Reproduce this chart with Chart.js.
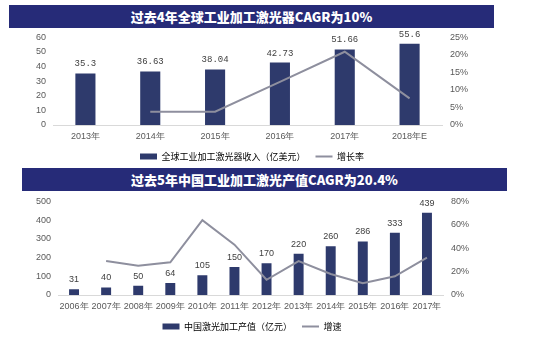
<!DOCTYPE html>
<html>
<head>
<meta charset="utf-8">
<script src="https://cdn.jsdelivr.net/npm/chart.js@4"></script>
<style>
    body { margin: 0; background: #fff; width: 557px; height: 354px; position: relative; overflow: hidden; }
    .band {
        position: absolute; background: #262b78; color: #fff;
        font-family: "Noto Sans CJK SC", sans-serif; font-weight: 900; font-size: 13px;
        text-align: center; height: 23px; line-height: 23px;
    }
    canvas { position: absolute; left: 0; }
</style>
</head>
<body>
<canvas id="globalChart" width="557" height="151" style="top:24px;"></canvas>
<canvas id="chinaChart" width="557" height="157" style="top:188px;"></canvas>
<div class="band" style="left:9px; top:5px; width:485px;">过去4年全球工业加工激光器CAGR为10%</div>
<div class="band" style="left:22px; top:168px; width:485px;">过去5年中国工业加工激光产值CAGR为20.4%</div>
<script>
// top chart
const globalYears = ["2013年", "2014年", "2015年", "2016年", "2017年", "2018年E"];
const globalRevenue = [35.3, 36.63, 38.04, 42.73, 51.66, 55.6];
const globalGrowth = [null, 3.8, 3.8, 12.3, 20.9, 7.6];

// bottom chart
const chinaYears = ["2006年", "2007年", "2008年", "2009年", "2010年", "2011年", "2012年", "2013年", "2014年", "2015年", "2016年", "2017年"];
const chinaOutput = [31, 40, 50, 64, 105, 150, 170, 220, 260, 286, 333, 439];
const chinaGrowth = [null, 29, 25, 28, 64, 43, 13, 29, 18, 10, 16, 32];

const barColor = "#2e3a6c";
const lineColor = "#8e8f9e";
const tickColor = "#595959";

// values over the bars
const barValues = {
    id: "barValues",
    afterDatasetsDraw(chart, args, opts) {
        const ctx = chart.ctx;
        const meta = chart.getDatasetMeta(0);
        ctx.save();
        ctx.font = opts.font;
        ctx.fillStyle = "#404040";
        ctx.textAlign = "center";
        ctx.textBaseline = "bottom";
        meta.data.forEach((bar, i) => {
            ctx.fillText(String(chart.data.datasets[0].data[i]), bar.x, bar.y - 5);
        });
        ctx.restore();
    }
};

function makeChart(id, cfg) {
    const ctx = document.getElementById(id).getContext("2d");
    const legendShift = 53; // legend is centred a bit left of the canvas centre
    return new Chart(ctx, {
        data: {
            labels: cfg.labels,
            datasets: [{
                type: "bar",
                label: cfg.barLabel,
                data: cfg.values,
                yAxisID: "y",
                backgroundColor: barColor,
                categoryPercentage: 1,
                barPercentage: 0.31,
                order: 1
            }, {
                type: "line",
                label: cfg.lineLabel,
                data: cfg.growth,
                yAxisID: "y1",
                borderColor: lineColor,
                backgroundColor: lineColor,
                borderWidth: 2,
                pointRadius: 0,
                tension: 0,
                order: 0
            }]
        },
        plugins: [barValues],
        options: {
            responsive: false,
            animation: false,
            layout: { padding: { top: 0, bottom: 4, left: 0, right: legendShift } },
            plugins: {
                tooltip: { enabled: false },
                barValues: { font: cfg.valueFont },
                legend: {
                    position: "bottom",
                    labels: {
                        usePointStyle: true,
                        pointStyleWidth: 17,
                        boxHeight: 6,
                        padding: 10,
                        color: tickColor,
                        font: { family: "Noto Sans CJK SC", size: 9 },
                        generateLabels: (chart) => [
                            { text: cfg.barLabel, pointStyle: "rect", fillStyle: barColor, strokeStyle: barColor, lineWidth: 0, datasetIndex: 0 },
                            { text: cfg.lineLabel, pointStyle: "line", fillStyle: lineColor, strokeStyle: lineColor, lineWidth: 2, datasetIndex: 1 }
                        ]
                    }
                }
            },
            scales: {
                x: {
                    grid: { display: false, drawTicks: false },
                    border: { color: "#d9d9d9" },
                    ticks: { color: tickColor, font: { size: 9 }, padding: 6, autoSkip: false, maxRotation: 0 },
                    afterFit: (s) => { s.height = 17; }
                },
                y: {
                    position: "left",
                    min: 0, max: cfg.yMax,
                    grid: { display: false, drawTicks: false },
                    border: { display: false },
                    ticks: { stepSize: cfg.yStep, autoSkip: false, color: tickColor, font: { size: 9 }, padding: 7 },
                    afterFit: (s) => { s.width = cfg.left; }
                },
                y1: {
                    position: "right",
                    min: 0, max: cfg.y1Max,
                    grid: { display: false, drawTicks: false },
                    border: { display: false },
                    ticks: { stepSize: cfg.y1Step, autoSkip: false, color: tickColor, font: { size: 9 }, padding: 8, callback: (v) => v + "%" },
                    afterFit: (s) => { s.width = 557 - legendShift - cfg.right; }
                }
            }
        }
    });
}

makeChart("globalChart", {
    labels: globalYears,
    values: globalRevenue,
    growth: globalGrowth,
    barLabel: "全球工业加工激光器收入（亿美元）",
    lineLabel: "增长率",
    yMax: 60, yStep: 10, y1Max: 25, y1Step: 5,
    left: 53, right: 442,
    valueFont: "9px 'Liberation Mono'"
});

makeChart("chinaChart", {
    labels: chinaYears,
    values: chinaOutput,
    growth: chinaGrowth,
    barLabel: "中国激光加工产值（亿元）",
    lineLabel: "增速",
    yMax: 500, yStep: 100, y1Max: 80, y1Step: 20,
    left: 58, right: 443,
    valueFont: "9px 'Liberation Sans'"
});
</script>
</body>
</html>
